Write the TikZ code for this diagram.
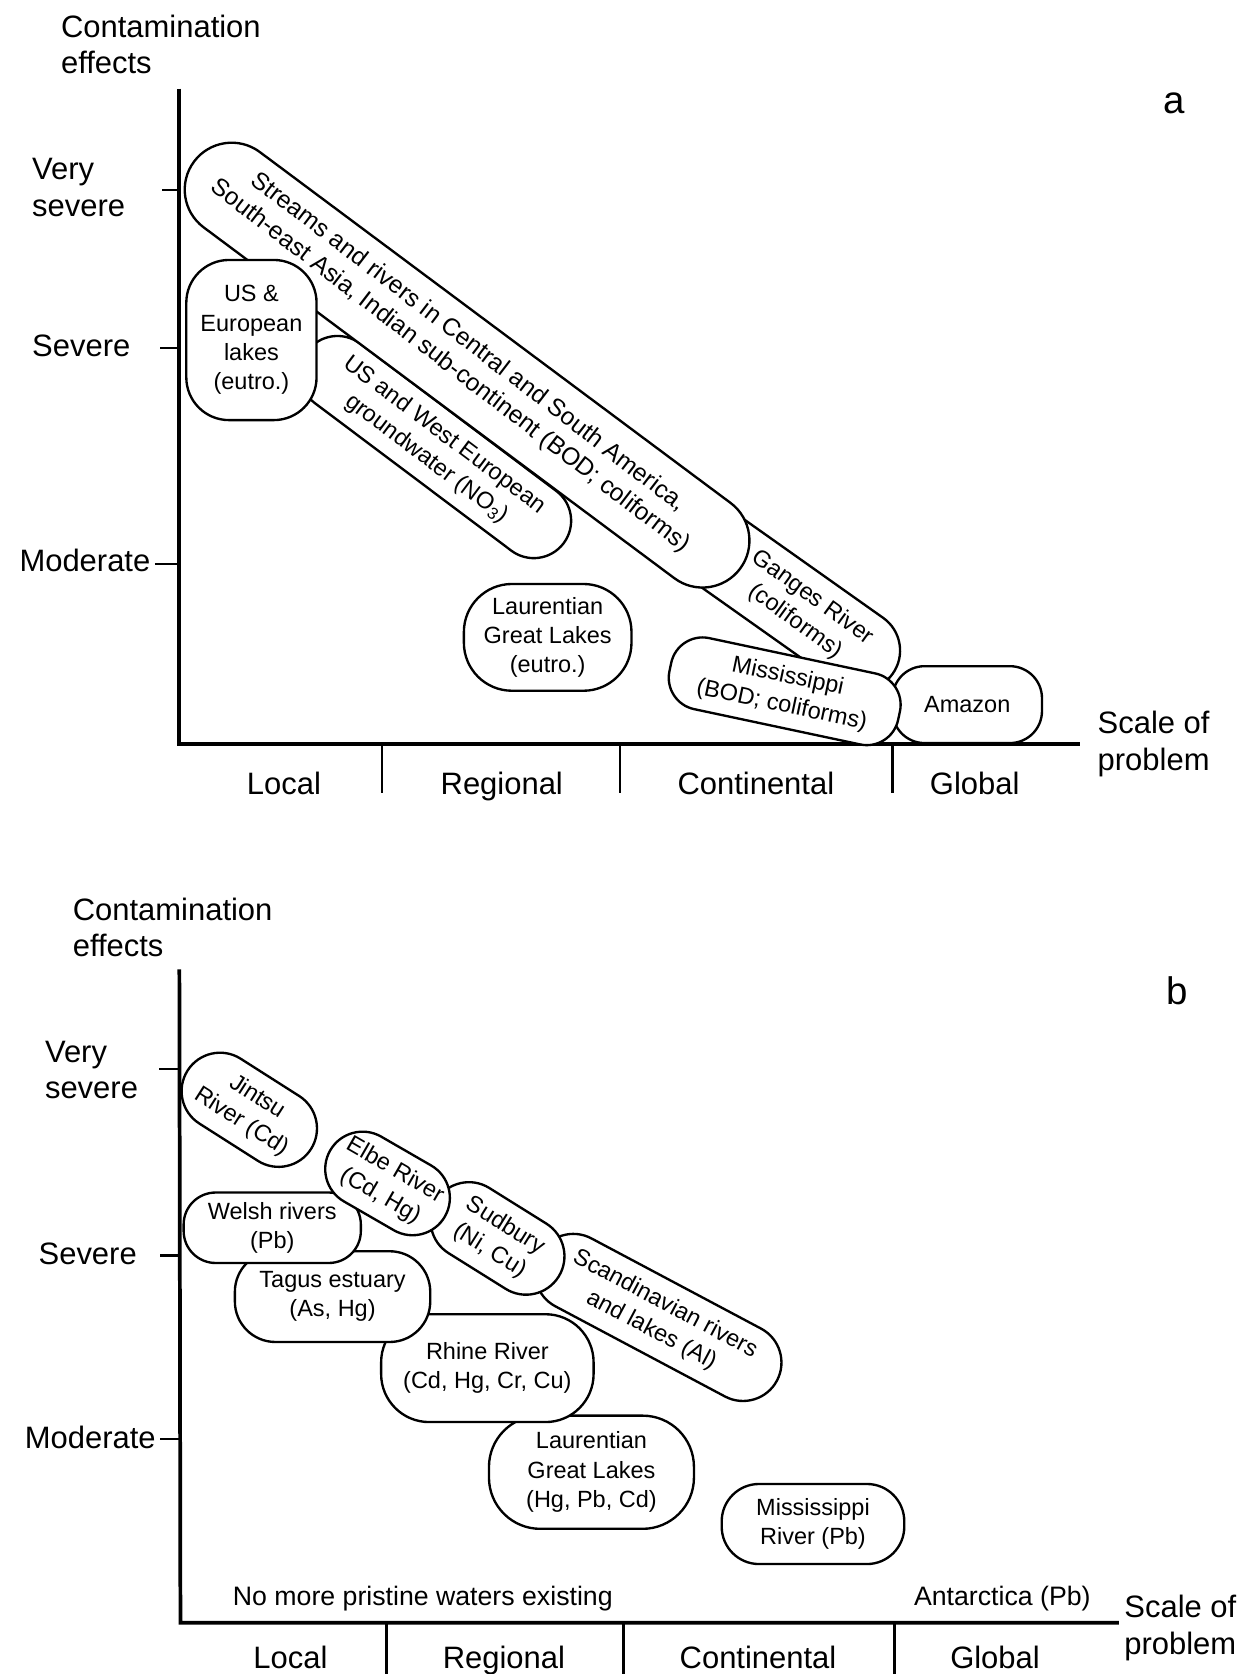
\documentclass[tikz,border=0pt]{standalone}
\usepackage{fontspec}
\setmainfont{Liberation Sans}
\usepackage{tikz}
\newcommand\axisfont{\fontsize{29}{34}\selectfont}
\newcommand\blobfont{\fontsize{22}{27.5}\selectfont}
\newcommand\notefont{\fontsize{25}{30}\selectfont}
\newcommand\panelfont{\fontsize{36}{40}\selectfont}

\begin{document}
\begin{tikzpicture}[x=1pt,y=-1pt,
    axisline/.style={line width=3.5pt},
    tickline/.style={line width=2.2pt},
    lab/.style={font=\axisfont,align=left,inner sep=0pt},
    note/.style={font=\notefont,inner sep=0pt},
    panel/.style={font=\panelfont,inner sep=0pt},
    blob/.style n args={3}{draw,fill=white,line width=2.2pt,align=center,inner sep=0pt,
        font=\blobfont,minimum width=#1pt,minimum height=#2pt,rounded corners=#3pt},
    blobtext/.style={font=\blobfont,align=center,inner sep=0pt}]
    \useasboundingbox (0,0) rectangle (1165,1568);

    % panel a
    \node[panel] (pa) at (1100,97) {a};
    \node[lab,anchor=west] (ya) at (57,41.5) {Contamination\\effects};
    \node[lab,anchor=west] (va) at (30,175.5) {Very\\severe};
    \node[lab,anchor=west] (sa) at (30,324) {Severe};
    \node[lab,anchor=east] (ma) at (141,525) {Moderate};
    \node[lab,anchor=west] (xla) at (1028,697) {Scale of\\problem};
    \coordinate (topa) at (168,83);
    \coordinate (origa) at (168,697);
    \coordinate (enda) at (1012,697);
    \draw[axisline] (topa) -- (origa) -- (enda);
    \draw[tickline] (152,178) -- (168,178);
    \draw[tickline] (150,326) -- (168,326);
    \draw[tickline] (145,528) -- (168,528);
    \foreach \x in {358,581,836}
        \draw[tickline] (\x,697) -- (\x,743);
    \foreach \x/\t in {266/Local,470/Regional,708/Continental,913/Global}
        \node[lab,anchor=base] (xa\x) at (\x,744) {\t};

    \node[blob={327}{75}{37.5},rotate=-35.3] (ganges) at (702.75,536.55) {};
    \node[blob={140}{72}{30}] (amazon) at (906,660) {Amazon};
    \node[blob={219}{68}{30},rotate=-12] (missa) at (735,647.5) {Mississippi\\(BOD; coliforms)};
    \node[blob={300}{70}{35},rotate=-36.9] (ground) at (408,418.75)
        {US and West European\\groundwater (NO\textsubscript{3})};
    \node[blob={638}{88}{44},rotate=-36.7] (streams) at (437.5,342) {};
    \node[blobtext,font=\fontsize{23}{28}\selectfont,rotate=-37.5] (streamstext) at (430,332)
        {Streams and rivers in Central and South America,\\South-east Asia, Indian sub-continent (BOD; coliforms)};
    \node[blobtext,rotate=-36] (gangestext) at (753,571) {Ganges River\\(coliforms)};
    \node[blob={122}{150}{40}] (uslakes) at (235.5,318.5) {US \&\\European\\lakes\\(eutro.)};
    \node[blob={157}{100}{45}] (laura) at (513,597) {Laurentian\\Great Lakes\\(eutro.)};

    % panel b
    \node[panel] (pb) at (1103,928) {b};
    \node[lab,anchor=west] (yb) at (68,869) {Contamination\\effects};
    \node[lab,anchor=west] (vb) at (42,1002) {Very\\severe};
    \node[lab,anchor=west] (sb) at (36,1174) {Severe};
    \node[lab,anchor=east] (mb) at (146,1346) {Moderate};
    \node[lab,anchor=west] (xlb) at (1053,1525) {Scale of\\problem};
    \coordinate (topb) at (168,908);
    \coordinate (origb) at (169,1520);
    \coordinate (endb) at (1048,1520);
    \draw[axisline] (topb) -- (origb) -- (endb);
    \draw[tickline] (149,1001) -- (168,1001);
    \draw[tickline] (150,1176) -- (168,1176);
    \draw[tickline] (150,1348) -- (168,1348);
    \foreach \x in {362,584,838}
        \draw[tickline] (\x,1520) -- (\x,1568);
    \foreach \x/\t in {272/Local,472/Regional,710/Continental,932/Global}
        \node[lab,anchor=base] (xb\x) at (\x,1563) {\t};
    \node[note,anchor=west] (pristine) at (218,1497) {No more pristine waters existing};
    \node[note,anchor=west] (antarc) at (856,1497) {Antarctica (Pb)};

    \node[blob={137}{72}{36},rotate=-32.5] (jintsu) at (233.5,1039.5) {Jintsu\\River (Cd)};
    \node[blob={192}{106}{48}] (laurb) at (554,1379) {Laurentian\\Great Lakes\\(Hg, Pb, Cd)};
    \node[blob={199}{101}{45}] (rhine) at (456.5,1281.5) {Rhine River\\(Cd, Hg, Cr, Cu)};
    \node[blob={183}{85}{38}] (tagus) at (311.5,1214.5) {Tagus estuary\\(As, Hg)};
    \node[blob={166}{66}{30}] (welsh) at (255,1150) {Welsh rivers\\(Pb)};
    \node[blob={252}{72}{36},rotate=-28] (scand) at (616.5,1234) {Scandinavian rivers\\and lakes (Al)};
    \node[blob={135}{72}{36},rotate=-32] (sudbury) at (466,1160) {Sudbury\\(Ni, Cu)};
    \node[blob={124}{70}{35},rotate=-30] (elbe) at (363,1108.5) {Elbe River\\(Cd, Hg)};
    \node[blob={171}{75}{35}] (missb) at (761.5,1427.5) {Mississippi\\River (Pb)};
\end{tikzpicture}
\end{document}
